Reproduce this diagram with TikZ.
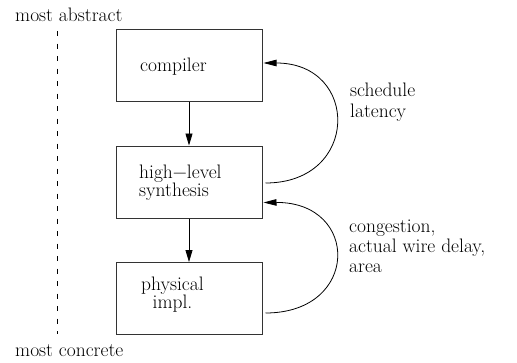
\documentclass[tikz,border=0pt]{standalone}
\usepackage{fontspec}
\usetikzlibrary{arrows.meta,calc}
\begin{document}
\begin{tikzpicture}[x=1pt,y=-1pt,
  every node/.style={font=\fontsize{19.5}{20}\selectfont, inner sep=0pt},
  box/.style={draw=black!80, line width=1pt, rectangle, minimum width=146pt, minimum height=72pt},
  lbl/.style={anchor=base west},
  flow/.style={draw, line width=0.8pt, -{Triangle[length=12pt,width=7pt]}},
  fb/.style={draw, line width=0.8pt, -{Triangle[length=13pt,width=6.5pt]}}]
\useasboundingbox (0,0) rectangle (517,362);
% boxes
\node[box] (comp) at (189,65) {};
\node[box] (hl) at (189,182) {};
\node[box] (phys) at (189,298.5) {};
% box texts
\node[lbl] (tcomp) at (140,71.7) {compiler};
\node[lbl, align=left, font=\fontsize{19.5}{14.7}\selectfont] (thl) at (139,196.7) {high−level\\synthesis};
\node[lbl, align=center, font=\fontsize{19.5}{18}\selectfont] (tph) at (141,308) {physical\\impl.};
% downward arrows
\draw[flow] (comp.south) -- (hl.north);
\draw[flow] (hl.south) -- (phys.north);
% feedback arcs
\coordinate (a1s) at ($(hl.east)+(3,1)$);
\coordinate (a1e) at ($(comp.east)+(1,-2)$);
\draw[fb] (a1s) .. controls (360,183) and (360,63) .. (a1e);
\coordinate (a2s) at ($(phys.south east)+(3,-22)$);
\coordinate (a2e) at ($(hl.south east)+(1,-16)$);
\draw[fb] (a2s) .. controls (360,313) and (360,202) .. (a2e);
% feedback labels
\node[lbl, align=left, font=\fontsize{19.5}{21}\selectfont] (sl) at (350,117) {schedule\\latency};
\node[lbl, align=left, font=\fontsize{19.5}{20}\selectfont] (cl) at (349,272) {congestion,\\actual wire delay,\\area};
% abstraction axis
\node[lbl] (top) at (15,21.5) {most abstract};
\node[lbl] (bot) at (15,356) {most concrete};
\coordinate (dtop) at (57,31);
\coordinate (dbot) at (57,334);
\draw[line width=0.8pt, dash pattern=on 5pt off 7.5pt] (dtop) -- (dbot);
\end{tikzpicture}
\end{document}
